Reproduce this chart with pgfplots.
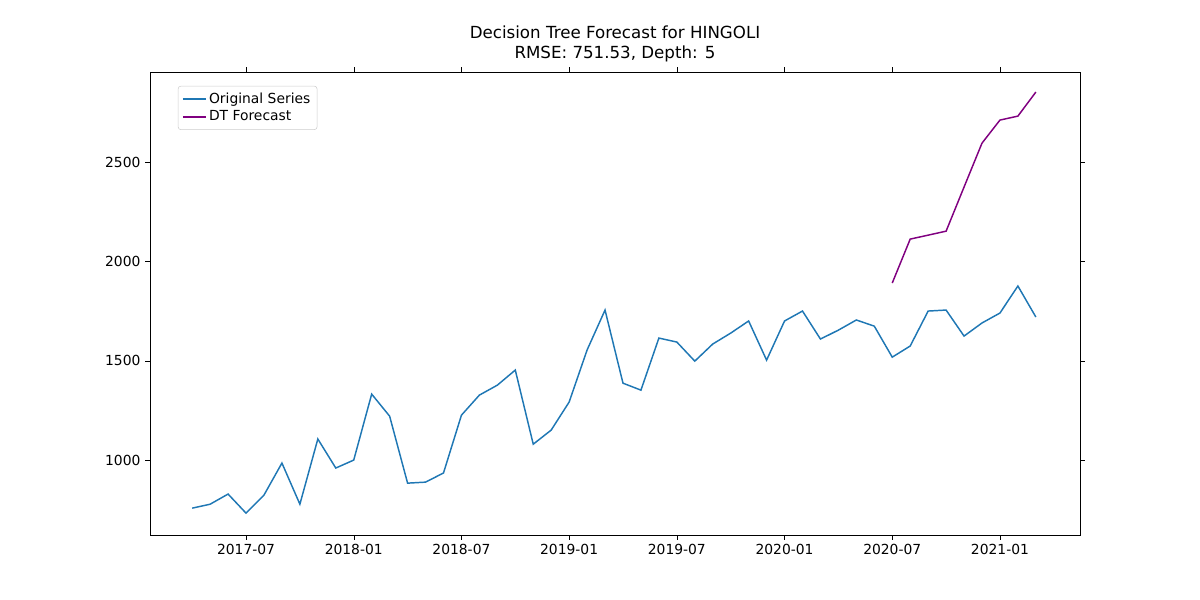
\documentclass[border=0pt]{standalone}
\usepackage{pgfplots}
\pgfplotsset{compat=1.18}
\usepackage{fontspec}
\setmainfont{DejaVu Sans}
\definecolor{c0}{HTML}{1F77B4}
\definecolor{dtp}{HTML}{800080}
\begin{document}
\fontsize{10.4}{12}\selectfont
\begin{tikzpicture}
\path[use as bounding box] (-112.5pt,-48.75pt) rectangle (787.5pt,401.25pt);
\begin{axis}[
  at={(0,0)}, anchor=south west,
  scale only axis, width=697.5pt, height=347.25pt,
  xmin=-5.35, xmax=46.46, ymin=623, ymax=2953,
  xtick={0,6,12,18,24,30,36,42},
  xticklabels={2017-07,2018-01,2018-07,2019-01,2019-07,2020-01,2020-07,2021-01},
  ytick={1000,1500,2000,2500},
  /pgf/number format/assume math mode=true,
  /pgf/number format/1000 sep={},
  tick align=outside, tick style={black}, major tick length=3.5pt,
  tick label style={font=\fontsize{10.4}{12}\selectfont},
  title style={font=\fontsize{12.5}{15}\selectfont, align=center, yshift=-2pt},
  title={Decision Tree Forecast for HINGOLI\\RMSE: 751.53, Depth: 5},
  legend pos=north west,
  legend style={font=\fontsize{10.4}{12}\selectfont, draw=black!20, rounded corners=2pt, inner sep=3pt},
  legend cell align=left,
]
\addplot[c0, line width=1.1pt] coordinates {
(-3,758)(-2,778)(-1,829)(0,733)(1,824)(2,985)(3,778)(4,1106)(5,960)(6,1000)
(7,1332)(8,1221)(9,884)(10,889)(11,935)(12,1226)(13,1327)(14,1377)(15,1453)
(16,1080)(17,1151)(18,1292)(19,1554)(20,1755)(21,1387)(22,1352)(23,1614)
(24,1594)(25,1498)(26,1584)(27,1639)(28,1700)(29,1503)(30,1700)(31,1750)
(32,1609)(33,1654)(34,1705)(35,1674)(36,1518)(37,1574)(38,1750)(39,1755)
(40,1624)(41,1690)(42,1740)(43,1876)(44,1720)};
\addlegendentry{Original Series}
\addplot[dtp, line width=1.1pt] coordinates {
(36,1891)(37,2112)(38,2132)(39,2152)(40,2374)(41,2595)(42,2711)(43,2731)(44,2852)};
\addlegendentry{DT Forecast}
\end{axis}
\end{tikzpicture}
\end{document}
